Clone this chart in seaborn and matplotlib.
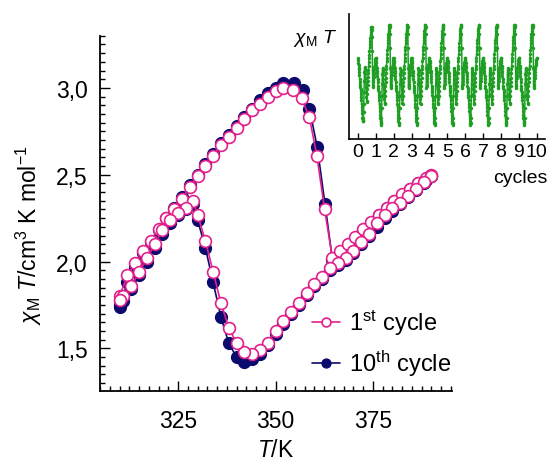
import matplotlib
matplotlib.use("Agg")
import matplotlib.pyplot as plt
from matplotlib.ticker import MultipleLocator, FuncFormatter, NullLocator
import numpy as np
import pandas as pd
import seaborn as sns

# 1st cycle, heating branch (T / K, chiT / cm3 K mol-1)
t_heat_1 = [310, 312, 314, 316, 318, 320, 322, 324, 326, 328, 330, 332, 334, 336,
            338, 340, 342, 344, 346, 348, 350, 352, 354.5, 356.7, 358.7, 360.6,
            362.6, 364.6, 366.5, 368.5, 370.5, 372.5, 374.5, 376.5, 378.5, 380.5,
            382.5, 384.5, 386.5, 388.5, 390]
chi_heat_1 = [1.80, 1.92, 1.99, 2.06, 2.12, 2.19, 2.25, 2.30, 2.36, 2.43, 2.49, 2.55,
              2.61, 2.67, 2.72, 2.77, 2.82, 2.87, 2.91, 2.95, 2.98, 3.00, 2.99, 2.94,
              2.83, 2.61, 2.30, 2.02, 2.06, 2.10, 2.14, 2.19, 2.23, 2.27, 2.31, 2.35,
              2.39, 2.42, 2.45, 2.48, 2.50]

# 1st cycle, cooling branch
t_cool_1 = [390, 388, 386, 384, 382, 380, 378, 376, 374, 372, 370, 368, 366, 364,
            362, 360, 358, 356, 354, 352, 350, 348, 346, 344, 342, 340, 338, 336,
            334, 332, 330, 328.8, 327, 325, 323, 321, 319, 317, 315, 313, 311, 310]
chi_cool_1 = [2.49, 2.46, 2.42, 2.38, 2.34, 2.31, 2.27, 2.22, 2.16, 2.11, 2.06, 2.02,
              1.99, 1.96, 1.91, 1.87, 1.82, 1.76, 1.71, 1.66, 1.60, 1.53, 1.49, 1.47,
              1.48, 1.53, 1.62, 1.76, 1.94, 2.12, 2.27, 2.35, 2.31, 2.28, 2.24, 2.18,
              2.10, 2.02, 1.94, 1.86, 1.80, 1.78]

# 10th cycle, heating branch
t_heat_10 = [310, 312, 314, 316, 318, 320, 322, 324, 326, 328, 330, 332, 334, 336,
             338, 340, 342, 344, 346, 348, 350, 352, 354.7, 357.0, 358.7, 360.7,
             362.7, 364.6, 366.5, 368.5, 370.5, 372.5, 374.5, 376.5, 378.5, 380.5,
             382.5, 384.5, 386.5, 388.5, 390]
chi_heat_10 = [1.74, 1.88, 1.97, 2.05, 2.11, 2.18, 2.25, 2.31, 2.37, 2.44, 2.50, 2.56,
               2.62, 2.68, 2.73, 2.78, 2.83, 2.88, 2.93, 2.97, 3.00, 3.03, 3.03, 2.99,
               2.88, 2.66, 2.33, 2.01, 2.04, 2.08, 2.13, 2.18, 2.22, 2.27, 2.31, 2.35,
               2.38, 2.42, 2.45, 2.47, 2.49]

# 10th cycle, cooling branch
t_cool_10 = t_cool_1
chi_cool_10 = [2.49, 2.45, 2.41, 2.37, 2.33, 2.29, 2.25, 2.20, 2.15, 2.10, 2.05, 2.01,
               1.98, 1.95, 1.90, 1.86, 1.81, 1.75, 1.70, 1.64, 1.58, 1.52, 1.47, 1.44,
               1.42, 1.45, 1.53, 1.68, 1.88, 2.08, 2.24, 2.33, 2.30, 2.27, 2.22, 2.16,
               2.08, 2.00, 1.92, 1.84, 1.77, 1.75]

n_cycles = 10
x_ticks_main = [325, 350, 375]
y_ticks_main = [1.5, 2.0, 2.5, 3.0]

pink = "#e2208c"
navy = "#0b0b6e"
green = "#1f9e24"

sns.set_theme(style="ticks")
plt.rcParams["font.family"] = ["Liberation Sans", "DejaVu Sans"]
plt.rcParams["mathtext.fontset"] = "custom"
plt.rcParams["mathtext.rm"] = "Liberation Sans"
plt.rcParams["mathtext.it"] = "Liberation Sans:italic"
plt.rcParams["mathtext.bf"] = "Liberation Sans:bold"
for key in ["text.color", "axes.labelcolor", "xtick.color", "ytick.color"]:
    plt.rcParams[key] = "black"

fig = plt.figure(figsize=(5.5, 4.6), dpi=100)
ax = fig.add_axes([0.182, 0.148, 0.640, 0.772])

loop_1 = pd.DataFrame({"T": t_heat_1 + t_cool_1, "chi": chi_heat_1 + chi_cool_1})
loop_10 = pd.DataFrame({"T": t_heat_10 + t_cool_10, "chi": chi_heat_10 + chi_cool_10})

sns.lineplot(data=loop_10, x="T", y="chi", ax=ax, sort=False, estimator=None,
             color=navy, lw=1.2, marker="o", markersize=8.5,
             markerfacecolor=navy, markeredgecolor=navy, markeredgewidth=1.0,
             label="10$^{\\rm th}$ cycle")
sns.lineplot(data=loop_1, x="T", y="chi", ax=ax, sort=False, estimator=None,
             color=pink, lw=1.2, marker="o", markersize=8.5,
             markerfacecolor="white", markeredgecolor=pink, markeredgewidth=1.2,
             label="1$^{\\rm st}$ cycle")

ax.set_xlim(305, 395.3)
ax.set_ylim(1.255, 3.3)
ax.set_xticks(x_ticks_main)
ax.set_yticks(y_ticks_main)
ax.xaxis.set_minor_locator(MultipleLocator(2.5))
ax.yaxis.set_minor_locator(MultipleLocator(0.05))
ax.yaxis.set_major_formatter(FuncFormatter(lambda v, p: f"{v:.1f}".replace(".", ",")))
ax.tick_params(which="both", direction="in", color="black", width=1.0)
ax.tick_params(which="major", length=7, labelsize=16.5, labelcolor="black")
ax.tick_params(axis="x", which="major", pad=13)
ax.tick_params(axis="y", which="major", pad=9)
ax.tick_params(which="minor", length=3.5)
for s in ["top", "right"]:
    ax.spines[s].set_visible(False)
for s in ["left", "bottom"]:
    ax.spines[s].set_color("black")
    ax.spines[s].set_linewidth(1.3)

ax.set_xlabel("$T$/K", fontsize=16.5, labelpad=4)
ax.set_ylabel("$\\chi_{\\rm M}$ $T$/cm$^3$ K mol$^{-1}$", fontsize=16.5)
ax.yaxis.set_label_coords(-0.16, 0.44)

handles = ax.get_lines()
ax.legend([handles[1], handles[0]], ["1$^{\\rm st}$ cycle", "10$^{\\rm th}$ cycle"],
          loc="lower left", bbox_to_anchor=(0.602, 0.036), frameon=False,
          borderpad=0, borderaxespad=0, markerscale=0.75,
          fontsize=17, handlelength=1.2, handletextpad=0.35, labelspacing=0.45)

# inset: chiT through ten thermal cycles (cooling from 390 K, then heating)
seq_1 = chi_cool_1 + chi_heat_1[1:]
seq_10 = chi_cool_10 + chi_heat_10[1:]
per = len(seq_1)
inset_x, inset_y = [], []
for k in range(n_cycles):
    seq = seq_1 if k == 0 else seq_10
    inset_x += list(k + np.arange(per) / per)
    inset_y += seq
inset_x.append(float(n_cycles))
inset_y.append(seq_10[0])
inset_df = pd.DataFrame({"cycle": inset_x, "chi": inset_y})

axin = fig.add_axes([0.6345, 0.696, 0.356, 0.272])
sns.lineplot(data=inset_df, x="cycle", y="chi", ax=axin, sort=False, estimator=None,
             color=green, lw=1.1, marker="o", markersize=2.2,
             markerfacecolor=green, markeredgecolor=green, markeredgewidth=0.3)
axin.set_xlim(-0.5, 10.45)
axin.set_ylim(1.19, 3.21)
axin.set_xticks(range(n_cycles + 1))
axin.yaxis.set_major_locator(NullLocator())
axin.tick_params(axis="x", direction="in", length=4, width=1.0, labelsize=14, pad=3,
                 color="black", labelcolor="black")
for s in ["top", "right"]:
    axin.spines[s].set_visible(False)
for s in ["left", "bottom"]:
    axin.spines[s].set_color("black")
    axin.spines[s].set_linewidth(1.2)
axin.set_xlabel("")
axin.set_ylabel("")
axin.patch.set_alpha(0)
fig.text(0.614, 0.917, "$\\chi_{\\rm M}$ $T$", fontsize=14, ha="right", va="center")
fig.text(0.995, 0.612, "cycles", fontsize=14, ha="right", va="center")

fig.savefig("out.png", dpi=100)
